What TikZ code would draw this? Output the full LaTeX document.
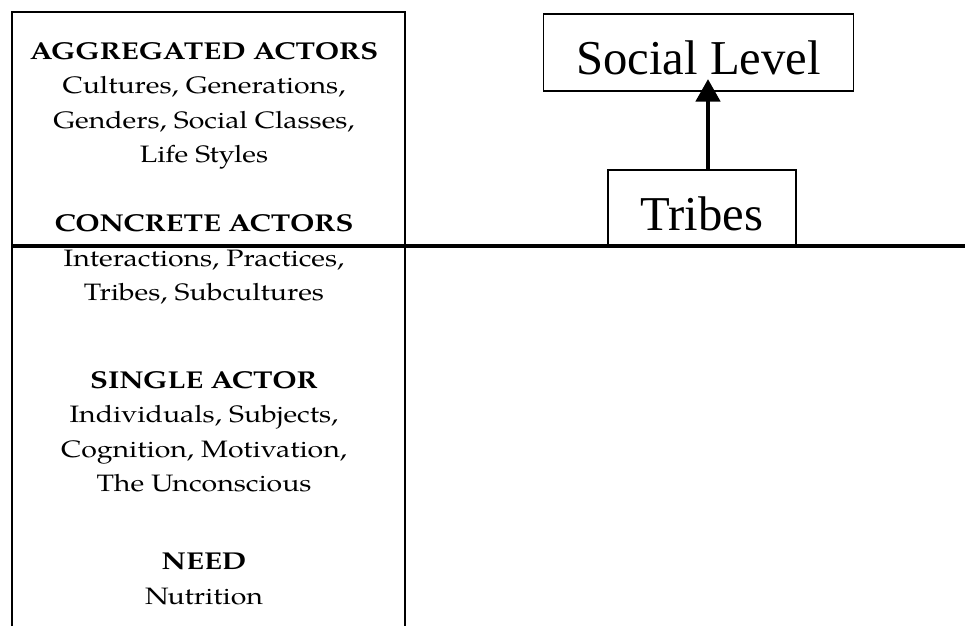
\documentclass[tikz,border=0pt]{standalone}
\usepackage{fontspec}
\newfontfamily\palfont{texgyrepagella}[Extension=.otf,UprightFont=*-regular,BoldFont=*-bold,FakeStretch=1.2]
\newfontfamily\timesfont{Liberation Serif}
\usetikzlibrary{arrows.meta}
\newcommand\levelhead[1]{{\bfseries\fontsize{18.3pt}{25.8pt}\selectfont #1}}
\begin{document}
\begin{tikzpicture}[x=0.75pt,y=-0.75pt,
  levelblock/.style={align=center,anchor=base,inner sep=0pt,
    font=\palfont\fontsize{17.8pt}{25.8pt}\selectfont},
  levelbox/.style={draw,line width=1pt,inner sep=0pt,anchor=base,
    font=\timesfont\fontsize{36.5pt}{40pt}\selectfont},
  framerule/.style={line width=1.8pt},
  divider/.style={line width=3pt},
  uparrow/.style={line width=3.6pt,-{Triangle[width=18pt,length=17pt]}}]
\useasboundingbox (0,0) rectangle (965,626);

% column of actor levels (each block is placed by the baseline of its last line)
\draw[framerule] (12,626) -- (12,12) -- (405,12) -- (405,626);
\node[levelblock] (aggregated) at (204,162.7)
  {\levelhead{AGGREGATED ACTORS}\\Cultures, Generations,\\Genders, Social Classes,\\Life Styles};
\node[levelblock] (concrete) at (204,300.5)
  {\levelhead{CONCRETE ACTORS}\\Interactions, Practices,\\Tribes, Subcultures};
\node[levelblock] (single) at (204,491.5)
  {\levelhead{SINGLE ACTOR}\\Individuals, Subjects,\\Cognition, Motivation,\\The Unconscious};
\node[levelblock] (need) at (204,604)
  {\levelhead{NEED}\\Nutrition};

% boxes on the right
\node[levelbox,minimum width=232.5pt,text height=45.2pt,text depth=12.5pt] (social) at (698.5,74.3) {Social Level};
\node[levelbox,minimum width=141pt,text height=45pt,text depth=11.25pt] (tribes) at (702,230) {Tribes};

\coordinate (tip) at (708,79);
\draw[uparrow] (tip |- tribes.north) -- (tip);

% level divider
\draw[divider] (12,246) -- (965,246);
\end{tikzpicture}
\end{document}
